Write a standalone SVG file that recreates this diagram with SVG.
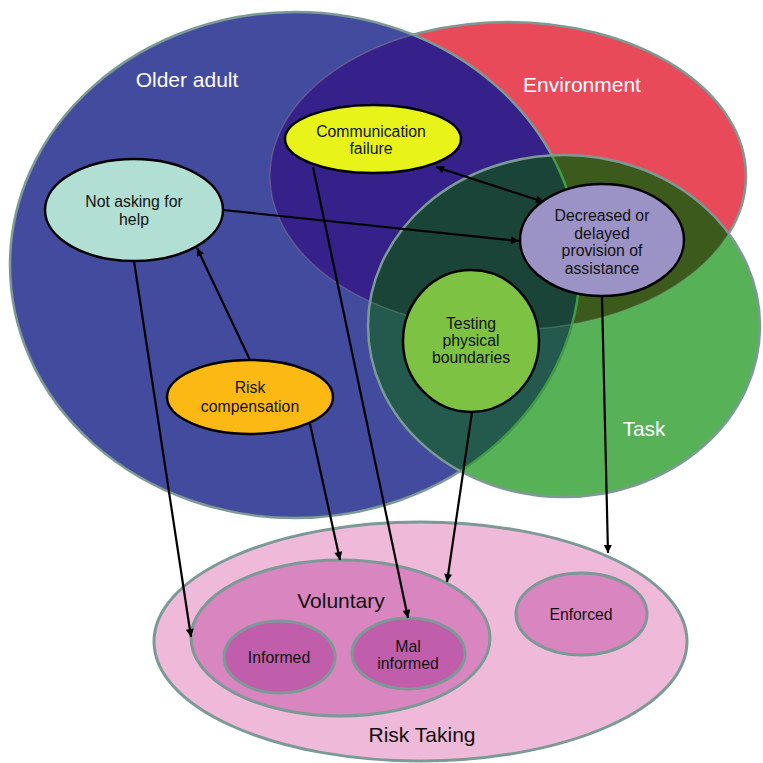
<svg xmlns="http://www.w3.org/2000/svg" width="763" height="763" viewBox="0 0 763 763">
<style>
.big{stroke:#7c9a95;stroke-width:2.5}
.node{stroke:#000;stroke-width:2.5}
.rt{stroke:#7c9a95;stroke-width:3}
.lbl{font-family:"Liberation Sans",Arial,sans-serif;font-size:15.8px;fill:#111;text-anchor:middle}
.biglbl{font-family:"Liberation Sans",Arial,sans-serif;font-size:21px;text-anchor:middle}
.conn{stroke:#000;stroke-width:2.2;fill:none}
</style>
<defs>
<ellipse id="eB" cx="295" cy="265" rx="285" ry="253"/>
<ellipse id="eR" cx="508" cy="176" rx="238" ry="154"/>
<ellipse id="eG" cx="564" cy="326" rx="196" ry="171"/>
<clipPath id="cB"><use href="#eB"/></clipPath>
<clipPath id="cR"><use href="#eR"/></clipPath>
<clipPath id="cG"><use href="#eG"/></clipPath>
<mask id="mOutBG"><rect width="763" height="763" fill="#fff"/><use href="#eB" fill="#000"/><use href="#eG" fill="#000"/></mask>
<mask id="mOutG"><rect width="763" height="763" fill="#fff"/><use href="#eG" fill="#000"/></mask>
<marker id="ah" viewBox="0 0 10 10" refX="10" refY="5" markerWidth="9" markerHeight="8" markerUnits="userSpaceOnUse" orient="auto-start-reverse"><path d="M0,0 L10,5 L0,10 z" fill="#000"/></marker>
</defs>
<g id="venn">
<use href="#eB" fill="#434b9e"/>
<use href="#eR" fill="#e84a5a"/>
<use href="#eG" fill="#57b157"/>
<g clip-path="url(#cB)"><use href="#eR" fill="#36208a"/></g>
<g clip-path="url(#cB)"><use href="#eG" fill="#235a4d"/></g>
<g clip-path="url(#cR)"><use href="#eG" fill="#3d5a1d"/></g>
<g clip-path="url(#cR)"><g clip-path="url(#cB)"><use href="#eG" fill="#1b4439"/></g></g>
<use href="#eB" fill="none" class="big" mask="url(#mOutG)"/>
<g clip-path="url(#cG)"><use href="#eB" fill="none" stroke="#3f9b45" stroke-width="2.5"/></g>
<use href="#eG" fill="none" class="big"/>
<use href="#eR" fill="none" class="big" mask="url(#mOutBG)"/>
<use href="#eR" fill="none" stroke="#7c9a95" stroke-width="1.5" opacity="0.35"/>
<text class="biglbl" x="187" y="87" fill="#fff">Older adult</text>
<text class="biglbl" x="582" y="92" fill="#fff">Environment</text>
<text class="biglbl" x="644" y="436" fill="#fff">Task</text>
</g>
<g id="risk-taking">
<ellipse cx="420.5" cy="641.5" rx="266.5" ry="119.5" fill="#efb9da" class="rt"/>
<text class="biglbl" x="422" y="742" fill="#111">Risk Taking</text>
</g>
<g id="voluntary">
<ellipse cx="340.5" cy="638" rx="149.5" ry="78" fill="#d985c0" class="rt"/>
<text class="biglbl" x="341" y="608" fill="#111">Voluntary</text>
</g>
<g id="informed">
<ellipse cx="279.5" cy="657" rx="55.5" ry="36" fill="#c05eab" class="rt"/>
<text class="lbl" x="279" y="663">Informed</text>
</g>
<g id="mal-informed">
<ellipse cx="408.5" cy="653.5" rx="56.5" ry="35.5" fill="#c05eab" class="rt"/>
<text class="lbl" x="408" y="652">Mal</text>
<text class="lbl" x="408" y="669">informed</text>
</g>
<g id="enforced">
<ellipse cx="581.5" cy="614" rx="65.5" ry="41" fill="#d985c0" class="rt"/>
<text class="lbl" x="581" y="620">Enforced</text>
</g>
<g id="connectors">
<line class="conn" x1="134" y1="261" x2="191" y2="637" marker-end="url(#ah)"/>
<line class="conn" x1="250" y1="360" x2="197" y2="248" marker-end="url(#ah)"/>
<line class="conn" x1="223" y1="210" x2="519" y2="241" marker-end="url(#ah)"/>
<line class="conn" x1="436" y1="167" x2="544" y2="202" marker-start="url(#ah)" marker-end="url(#ah)"/>
<line class="conn" x1="313" y1="167" x2="408" y2="618" marker-end="url(#ah)"/>
<line class="conn" x1="310" y1="424" x2="340" y2="560" marker-end="url(#ah)"/>
<line class="conn" x1="472" y1="412" x2="447" y2="582" marker-end="url(#ah)"/>
<line class="conn" x1="602" y1="297" x2="608" y2="553" marker-end="url(#ah)"/>
</g>
<g id="not-asking">
<ellipse cx="134" cy="210" rx="89" ry="51" fill="#b2dfd3" class="node"/>
<text class="lbl" x="134" y="207">Not asking for</text>
<text class="lbl" x="134" y="225">help</text>
</g>
<g id="communication-failure">
<ellipse cx="373" cy="139" rx="88" ry="34" fill="#e8f31a" class="node"/>
<text class="lbl" x="371" y="137">Communication</text>
<text class="lbl" x="371" y="154">failure</text>
</g>
<g id="risk-compensation">
<ellipse cx="250" cy="397" rx="83" ry="37" fill="#fdb913" class="node"/>
<text class="lbl" x="250" y="393">Risk</text>
<text class="lbl" x="250" y="412">compensation</text>
</g>
<g id="decreased">
<ellipse cx="602" cy="240" rx="82" ry="56" fill="#9b92c6" class="node"/>
<text class="lbl" x="602" y="221">Decreased or</text>
<text class="lbl" x="602" y="238.5">delayed</text>
<text class="lbl" x="602" y="256">provision of</text>
<text class="lbl" x="602" y="273.5">assistance</text>
</g>
<g id="testing">
<ellipse cx="471" cy="341" rx="68" ry="71" fill="#7dc242" class="node"/>
<text class="lbl" x="471" y="329">Testing</text>
<text class="lbl" x="471" y="346">physical</text>
<text class="lbl" x="471" y="363">boundaries</text>
</g>
</svg>
